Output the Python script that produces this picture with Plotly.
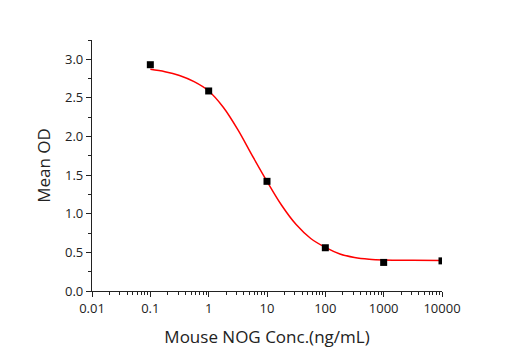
import plotly.graph_objects as go

# Measured data points
conc = [0.1, 1, 10, 100, 1000, 10000]
mean_od = [2.93, 2.59, 1.42, 0.56, 0.37, 0.39]

# Fitted curve (quarter-decade readings)
fit_x = [0.1, 0.178, 0.316, 0.562, 1, 1.78, 3.16, 5.62, 10, 17.8, 31.6, 56.2,
         100, 178, 316, 562, 1000, 3162, 10000]
fit_y = [2.87, 2.84, 2.79, 2.71, 2.59, 2.38, 2.09, 1.75, 1.42, 1.11, 0.86, 0.68,
         0.565, 0.48, 0.435, 0.412, 0.402, 0.397, 0.395]

x_ticks = [0.01, 0.1, 1, 10, 100, 1000, 10000]
x_ticklabels = ["0.01", "0.1", "1", "10", "100", "1000", "10000"]
y_ticks = [0.0, 0.5, 1.0, 1.5, 2.0, 2.5, 3.0]
y_ticklabels = ["0.0", "0.5", "1.0", "1.5", "2.0", "2.5", "3.0"]

x_minor = [m * d for d in x_ticks[:-1] for m in range(2, 10)]

fig = go.Figure()
fig.add_trace(go.Scatter(x=fit_x, y=fit_y, mode="lines",
                         line=dict(color="#ff0000", width=1.5, shape="spline", smoothing=1.0),
                         showlegend=False, hoverinfo="skip"))
fig.add_trace(go.Scatter(x=conc, y=mean_od, mode="markers",
                         marker=dict(symbol="square", size=7, color="black"),
                         showlegend=False))

font_family = "Open Sans, Noto Sans, sans-serif"
axis_color = "#222222"
fig.update_layout(
    width=515, height=350,
    margin=dict(l=92, r=73, t=40, b=59, autoexpand=False),
    plot_bgcolor="white", paper_bgcolor="white",
    font=dict(family=font_family, color="#222222"),
    xaxis=dict(type="log", range=[-2, 4], tickmode="array", tickvals=x_ticks, ticktext=x_ticklabels,
               showgrid=False, zeroline=False, showline=True, linecolor=axis_color, linewidth=1.2,
               ticks="outside", ticklen=5, tickcolor=axis_color, tickfont=dict(size=13),
               automargin=False,
               minor=dict(tickmode="array", tickvals=x_minor, ticks="outside", ticklen=3,
                          tickcolor=axis_color, showgrid=False),
               title=dict(text="Mouse NOG Conc.(ng/mL)", font=dict(size=17), standoff=15)),
    yaxis=dict(range=[0, 3.25], tickmode="array", tickvals=y_ticks, ticktext=y_ticklabels,
               showgrid=False, zeroline=False, showline=True, linecolor=axis_color, linewidth=1.2,
               ticks="outside", ticklen=5, tickcolor=axis_color, tickfont=dict(size=13),
               automargin=False,
               minor=dict(ticks="outside", ticklen=3, tickcolor=axis_color, dtick=0.25, showgrid=False),
               title=dict(text="Mean OD", font=dict(size=17), standoff=10)),
)

fig.write_html("out.html")
